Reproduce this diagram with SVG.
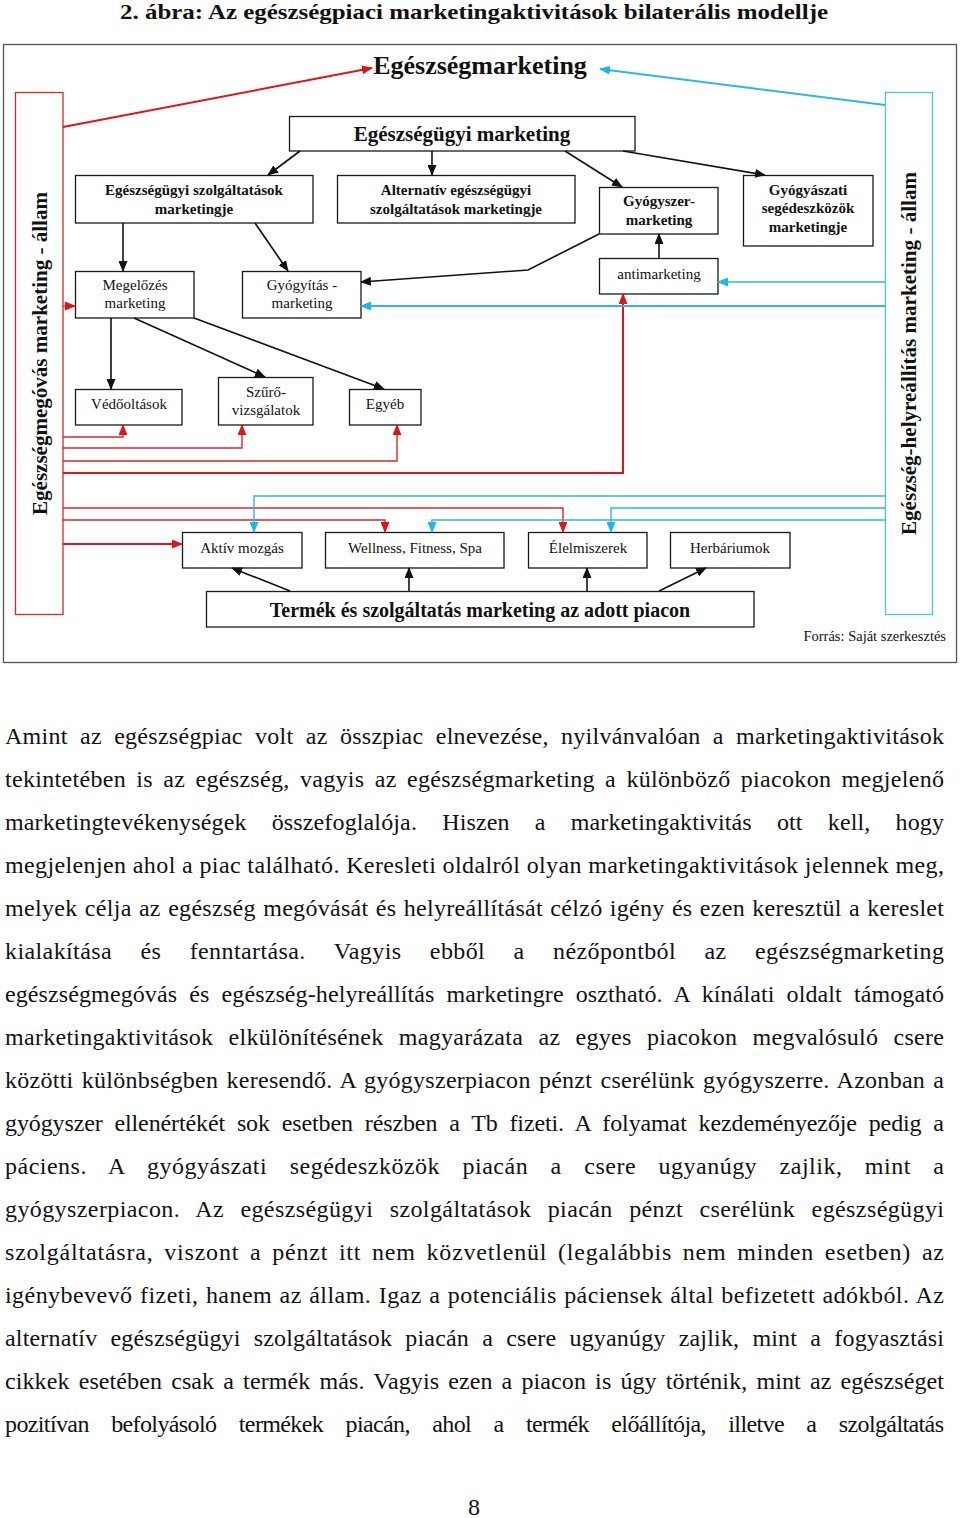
<svg xmlns="http://www.w3.org/2000/svg" width="960" height="1518" viewBox="0 0 960 1518">
<style>
.t{font-family:"Liberation Serif","Times New Roman",serif;fill:#111}
.b{font-weight:bold}
.box{fill:#fff;stroke:#1a1a1a;stroke-width:1.3}
.k{fill:none;stroke:#111;stroke-width:1.6}
.r{fill:none;stroke:#d8262c;stroke-width:1.4}
.rt{fill:none;stroke:#e0141b;stroke-width:2}
.c{fill:none;stroke:#2bb8e2;stroke-width:1.4}
.ct{fill:none;stroke:#2bb8e2;stroke-width:2}
.n{font-size:15px;text-anchor:middle}
.p{font-size:24px}
</style>
<defs>
<marker id="ak" markerUnits="userSpaceOnUse" markerWidth="11" markerHeight="9" refX="10" refY="4.5" orient="auto"><path d="M0,0 L11,4.5 L0,9 z" fill="#111"/></marker>
<marker id="ar" markerUnits="userSpaceOnUse" markerWidth="11" markerHeight="9" refX="10" refY="4.5" orient="auto"><path d="M0,0 L11,4.5 L0,9 z" fill="#e0141b"/></marker>
<marker id="ac" markerUnits="userSpaceOnUse" markerWidth="11" markerHeight="9" refX="10" refY="4.5" orient="auto"><path d="M0,0 L11,4.5 L0,9 z" fill="#1fb6e6"/></marker>
</defs>
<rect width="960" height="1518" fill="#fff"/>
<text class="t b" x="120" y="19" font-size="22" textLength="708" lengthAdjust="spacingAndGlyphs">2. ábra: Az egészségpiaci marketingaktivitások bilaterális modellje</text>
<rect x="3.5" y="44.5" width="953" height="618" fill="none" stroke="#555" stroke-width="1.3"/>

<g id="node-egeszsegmarketing"><text class="t b" x="480" y="74" font-size="26" text-anchor="middle">Egészségmarketing</text></g>
<g id="node-allam-left"><rect x="15.5" y="92.5" width="47.5" height="522" fill="#fff" stroke="#d8262c" stroke-width="1.3"/><text class="t b" font-size="20" text-anchor="middle" transform="translate(47,353.5) rotate(-90)" textLength="323" lengthAdjust="spacingAndGlyphs">Egészségmegóvás marketing - állam</text></g>
<g id="node-allam-right"><rect x="885.5" y="92.5" width="47" height="522" fill="#fff" stroke="#4cc3dd" stroke-width="1.3"/><text class="t b" font-size="20" text-anchor="middle" transform="translate(916,353.5) rotate(-90)" textLength="363" lengthAdjust="spacingAndGlyphs">Egészség-helyreállítás marketing - állam</text></g>
<g id="node-eu-marketing"><rect class="box" x="289.5" y="116.5" width="345.5" height="34.5"/><text class="t b" x="462" y="141" font-size="21" text-anchor="middle">Egészségügyi marketing</text></g>
<g id="node-eu-szolg"><rect class="box" x="75.5" y="175.5" width="237.5" height="47.5"/><text class="t b n" x="194" y="195">Egészségügyi szolgáltatások</text><text class="t b n" x="194" y="214">marketingje</text></g>
<g id="node-alt"><rect class="box" x="337.5" y="175.5" width="237.5" height="47.5"/><text class="t b n" x="456" y="195">Alternatív egészségügyi</text><text class="t b n" x="456" y="214">szolgáltatások marketingje</text></g>
<g id="node-gyogyszer"><rect class="box" x="599.5" y="187.5" width="118.5" height="46.5"/><text class="t b n" x="659" y="206">Gyógyszer-</text><text class="t b n" x="659" y="225">marketing</text></g>
<g id="node-segedeszkoz"><rect class="box" x="743.5" y="175.5" width="129.5" height="70.5"/><text class="t b n" x="808" y="195">Gyógyászati</text><text class="t b n" x="808" y="213">segédeszközök</text><text class="t b n" x="808" y="232">marketingje</text></g>
<g id="node-antimarketing"><rect class="box" x="599.5" y="258.5" width="118.5" height="35.5"/><text class="t n" x="659" y="279">antimarketing</text></g>
<g id="node-megelozes"><rect class="box" x="75.5" y="271.5" width="118.5" height="46.5"/><text class="t n" x="135" y="290">Megelőzés</text><text class="t n" x="135" y="308">marketing</text></g>
<g id="node-gyogyitas"><rect class="box" x="242.5" y="271.5" width="118.5" height="46.5"/><text class="t n" x="302" y="290">Gyógyítás -</text><text class="t n" x="302" y="308">marketing</text></g>
<g id="node-vedooltasok"><rect class="box" x="75.5" y="389.5" width="106.5" height="35.5"/><text class="t n" x="129" y="409">Védőoltások</text></g>
<g id="node-szuro"><rect class="box" x="218.5" y="377.5" width="94.5" height="47.5"/><text class="t n" x="266" y="397">Szűrő-</text><text class="t n" x="266" y="415">vizsgálatok</text></g>
<g id="node-egyeb"><rect class="box" x="349.5" y="389.5" width="71.5" height="35.5"/><text class="t n" x="385" y="409">Egyéb</text></g>
<g id="node-aktiv"><rect class="box" x="182.5" y="532.5" width="119.5" height="35.5"/><text class="t n" x="242" y="553">Aktív mozgás</text></g>
<g id="node-wellness"><rect class="box" x="325.5" y="532.5" width="178.5" height="35.5"/><text class="t n" x="415" y="553">Wellness, Fitness, Spa</text></g>
<g id="node-elelmiszerek"><rect class="box" x="528.5" y="532.5" width="118.5" height="35.5"/><text class="t n" x="588" y="553">Élelmiszerek</text></g>
<g id="node-herbariumok"><rect class="box" x="670.5" y="532.5" width="119.5" height="35.5"/><text class="t n" x="730" y="553">Herbáriumok</text></g>
<g id="node-termek"><rect class="box" x="206.5" y="591.5" width="547.5" height="35.5"/><text class="t b" x="480" y="617" font-size="20" text-anchor="middle">Termék és szolgáltatás marketing az adott piacon</text></g>
<text class="t" x="946" y="641" font-size="14.5" text-anchor="end">Forrás: Saját szerkesztés</text>

<g id="connectors">
<path class="k" d="M300,151 L268,175" marker-end="url(#ak)"/>
<path class="k" d="M432,151 L432,175" marker-end="url(#ak)"/>
<path class="k" d="M565,151 L622,187" marker-end="url(#ak)"/>
<path class="k" d="M623,151 L765,175" marker-end="url(#ak)"/>
<path class="k" d="M123,223 L123,271" marker-end="url(#ak)"/>
<path class="k" d="M255,223 L288,271" marker-end="url(#ak)"/>
<path class="k" d="M599,234 L528,270 L361,282" marker-end="url(#ak)"/>
<path class="k" d="M659,258 L659,234" marker-end="url(#ak)"/>
<path class="k" d="M111,318 L111,389" marker-end="url(#ak)"/>
<path class="k" d="M134,318 L265,377" marker-end="url(#ak)"/>
<path class="k" d="M194,318 L384,389" marker-end="url(#ak)"/>
<path class="k" d="M290,591 L232,568" marker-end="url(#ak)"/>
<path class="k" d="M409,591 L409,568" marker-end="url(#ak)"/>
<path class="k" d="M587,591 L587,568" marker-end="url(#ak)"/>
<path class="k" d="M659,591 L706,568" marker-end="url(#ak)"/>

<path class="rt" d="M63,127 L372,68" marker-end="url(#ar)"/>
<path class="r" d="M63,306 L75,306" marker-end="url(#ar)"/>
<path class="r" d="M63,437 L123,437 L123,425" marker-end="url(#ar)"/>
<path class="r" d="M63,448 L242,448 L242,425" marker-end="url(#ar)"/>
<path class="r" d="M63,461 L397,461 L397,425" marker-end="url(#ar)"/>
<path class="rt" d="M63,473 L623,473 L623,294" marker-end="url(#ar)"/>
<path class="r" d="M63,508 L563,508 L563,532" marker-end="url(#ar)"/>
<path class="r" d="M63,520 L385,520 L385,532" marker-end="url(#ar)"/>
<path class="rt" d="M63,544 L182,544" marker-end="url(#ar)"/>

<path class="ct" d="M885,105 L600,69" marker-end="url(#ac)"/>
<path class="c" d="M885,282 L718,282" marker-end="url(#ac)"/>
<path class="ct" d="M885,306 L361,306" marker-end="url(#ac)"/>
<path class="c" d="M885,496 L254,496 L254,532" marker-end="url(#ac)"/>
<path class="c" d="M885,508 L611,508 L611,532" marker-end="url(#ac)"/>
<path class="c" d="M885,520 L432,520 L432,532" marker-end="url(#ac)"/>
</g>

<g id="body">
<text class="t p" x="5" y="744" word-spacing="6" textLength="939" lengthAdjust="spacing">Amint az egészségpiac volt az összpiac elnevezése, nyilvánvalóan a marketingaktivitások</text>
<text class="t p" x="5" y="787" word-spacing="4" textLength="939" lengthAdjust="spacing">tekintetében is az egészség, vagyis az egészségmarketing a különböző piacokon megjelenő</text>
<text class="t p" x="5" y="830" word-spacing="19" textLength="939" lengthAdjust="spacing">marketingtevékenységek összefoglalója. Hiszen a marketingaktivitás ott kell, hogy</text>
<text class="t p" x="5" y="873" word-spacing="0" textLength="939" lengthAdjust="spacing">megjelenjen ahol a piac található. Keresleti oldalról olyan marketingaktivitások jelennek meg,</text>
<text class="t p" x="5" y="916" word-spacing="1" textLength="939" lengthAdjust="spacing">melyek célja az egészség megóvását és helyreállítását célzó igény és ezen keresztül a kereslet</text>
<text class="t p" x="5" y="959" word-spacing="22" textLength="939" lengthAdjust="spacing">kialakítása és fenntartása. Vagyis ebből a nézőpontból az egészségmarketing</text>
<text class="t p" x="5" y="1002" word-spacing="6" textLength="939" lengthAdjust="spacing">egészségmegóvás és egészség-helyreállítás marketingre osztható. A kínálati oldalt támogató</text>
<text class="t p" x="5" y="1045" word-spacing="9" textLength="939" lengthAdjust="spacing">marketingaktivitások elkülönítésének magyarázata az egyes piacokon megvalósuló csere</text>
<text class="t p" x="5" y="1088" word-spacing="2" textLength="939" lengthAdjust="spacing">közötti különbségben keresendő. A gyógyszerpiacon pénzt cserélünk gyógyszerre. Azonban a</text>
<text class="t p" x="5" y="1131" word-spacing="6" textLength="939" lengthAdjust="spacing">gyógyszer ellenértékét sok esetben részben a Tb fizeti. A folyamat kezdeményezője pedig a</text>
<text class="t p" x="5" y="1174" word-spacing="16" textLength="939" lengthAdjust="spacing">páciens. A gyógyászati segédeszközök piacán a csere ugyanúgy zajlik, mint a</text>
<text class="t p" x="5" y="1217" word-spacing="10" textLength="939" lengthAdjust="spacing">gyógyszerpiacon. Az egészségügyi szolgáltatások piacán pénzt cserélünk egészségügyi</text>
<text class="t p" x="5" y="1260" word-spacing="4" textLength="939" lengthAdjust="spacing">szolgáltatásra, viszont a pénzt itt nem közvetlenül (legalábbis nem minden esetben) az</text>
<text class="t p" x="5" y="1303" word-spacing="1" textLength="939" lengthAdjust="spacing">igénybevevő fizeti, hanem az állam. Igaz a potenciális páciensek által befizetett adókból. Az</text>
<text class="t p" x="5" y="1346" word-spacing="7" textLength="939" lengthAdjust="spacing">alternatív egészségügyi szolgáltatások piacán a csere ugyanúgy zajlik, mint a fogyasztási</text>
<text class="t p" x="5" y="1389" word-spacing="3" textLength="939" lengthAdjust="spacing">cikkek esetében csak a termék más. Vagyis ezen a piacon is úgy történik, mint az egészséget</text>
<text class="t p" x="5" y="1432" word-spacing="17" textLength="939" lengthAdjust="spacing">pozitívan befolyásoló termékek piacán, ahol a termék előállítója, illetve a szolgáltatás</text>
<text class="t p" x="474" y="1515" text-anchor="middle">8</text>
</g>
</svg>
